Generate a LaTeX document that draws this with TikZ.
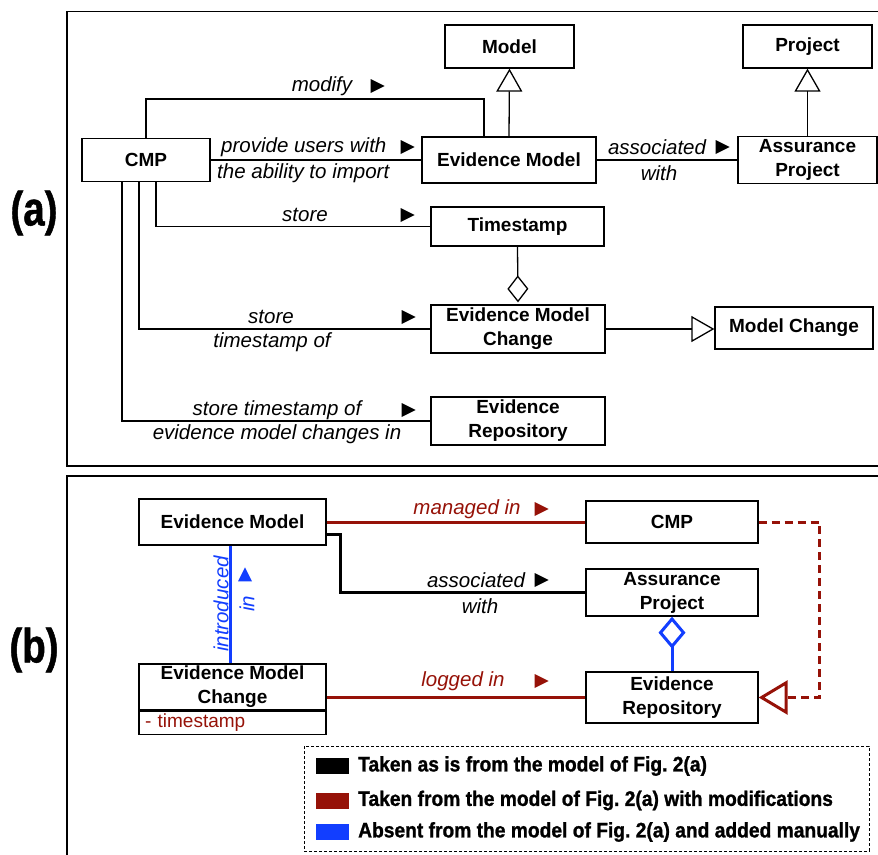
\documentclass[tikz,border=0pt]{standalone}
\usepackage{graphicx}
\usepackage{fontspec}
\setmainfont{Liberation Sans}
\newfontfamily\heavyfont[BoldFeatures={FakeBold=1.2}]{Liberation Sans}
\usetikzlibrary{positioning,arrows.meta,shapes.geometric,calc}
\definecolor{darkred}{RGB}{150,18,8}
\definecolor{brightblue}{RGB}{18,62,255}
\newcommand{\boxfont}{\fontsize{19}{24}\selectfont\bfseries}
\newcommand{\lblfont}{\fontsize{20.5}{24}\selectfont\itshape}
\newcommand{\keyfont}{\heavyfont\fontsize{21}{22}\selectfont\bfseries}
\newcommand{\panelfont}{\heavyfont\fontsize{48}{48}\selectfont\bfseries}
\newcommand{\keytext}[1]{\scalebox{0.915}[1]{#1}}

\begin{document}
\frenchspacing
\begin{tikzpicture}[x=1pt, y=-1pt,
  box/.style={draw, line width=1.3pt, fill=white, font=\boxfont, align=center, inner sep=0pt},
  lbl/.style={font=\lblfont, inner sep=0pt},
  dir/.style={isosceles triangle, isosceles triangle stretches, fill, draw=none, inner sep=0pt,
              minimum width=14pt, minimum height=14pt},
  link/.style={line width=1.3pt},
  gen/.style={link, -{Triangle[open, length=23pt, width=26pt]}},
  agg/.style={link, -{Diamond[open, length=27pt, width=21pt]}},
  rel/.style={line width=3pt},
  keybox/.style={minimum width=33pt, minimum height=16pt, inner sep=0pt}
]
  \useasboundingbox (0,0) rectangle (878,854);

  % panel frames
  \draw[line width=1.2pt] (67,11.5) rectangle (880,466);
  \draw[line width=1.2pt] (67,476) rectangle (880,870);
  \node[font=\panelfont] (pa) at (34,213) {\scalebox{0.8}[1]{(a)}};
  \node[font=\panelfont] (pb) at (34,650) {\scalebox{0.8}[1]{(b)}};

  % (a) classes
  \node[box, minimum width=129pt, minimum height=43pt] (model) at (509.5,46.5) {Model};
  \node[box, minimum width=129pt, minimum height=43pt] (project) at (807.5,46.5) {Project};
  \node[box, minimum width=128pt, minimum height=43pt] (cmp) at (146,160) {CMP};
  \node[box, minimum width=174pt, minimum height=46pt] (em) at (509,160) {Evidence Model};
  \node[box, minimum width=139pt, minimum height=47pt] (ap) at (807.5,160) {Assurance\\Project};
  \node[box, minimum width=173pt, minimum height=39pt] (ts) at (517.5,226.5) {Timestamp};
  \node[box, minimum width=174pt, minimum height=48pt] (emc) at (518,329) {Evidence Model\\Change};
  \node[box, minimum width=158pt, minimum height=42pt] (mc) at (794,328) {Model Change};
  \node[box, minimum width=174pt, minimum height=48pt] (er) at (518,421) {Evidence\\Repository};

  % (a) relations
  \coordinate (mtop) at (484,99);
  \draw[link] (cmp.north) |- (mtop) -- (mtop |- em.north);
  \draw[link] (cmp.east) -- (em.west);
  \draw[link] (em.east) -- (ap.west);
  \draw[link] ([xshift=10pt]cmp.south) |- (ts.west);
  \draw[link] ([xshift=-7pt]cmp.south) |- (emc.west);
  \draw[link] ([xshift=-24pt]cmp.south) |- (er.west);
  \draw[gen] (em.north) -- (model.south);
  \draw[gen] (ap.north) -- (project.south);
  \draw[gen] (emc.east) -- (emc.east -| mc.west);
  \draw[agg] (ts.south) -- ([yshift=2pt]emc.north);

  % (a) labels
  \node[lbl] (lmod) at (322,86) {modify};
  \node[dir] (dmod) at (375,86) {};
  \node[lbl, anchor=west] (lprov) at (221,147) {provide users with};
  \node[dir] (dprov) at (405,147) {};
  \node[lbl, anchor=west] (labil) at (217,173) {the ability to import};
  \node[lbl] (lst) at (305,215) {store};
  \node[dir] (dst) at (405,215) {};
  \node[lbl] (lst2) at (271,317) {store};
  \node[dir] (dst2) at (406,317) {};
  \node[lbl] (ltso) at (272,342) {timestamp of};
  \node[lbl] (lsto) at (277,410) {store timestamp of};
  \node[dir] (dsto) at (406,410) {};
  \node[lbl] (lchg) at (277,434) {evidence model changes in};
  \node[lbl] (lass) at (657,147) {associated};
  \node[dir] (dass) at (720,147) {};
  \node[lbl] (lwith) at (659,173) {with};

  % (b) classes
  \node[box, minimum width=187pt, minimum height=46pt] (em2) at (232.5,522) {Evidence Model};
  \node[box, minimum width=187pt, minimum height=46pt] (emc2) at (232.5,687) {Evidence Model\\Change};
  \node[box, minimum width=187pt, minimum height=23pt, below=0pt of emc2, font=\fontsize{19}{22}\selectfont,
        text=darkred, text width=175pt, align=left] (emcattr) {- timestamp};
  \node[box, minimum width=172pt, minimum height=42pt] (cmp2) at (672,522) {CMP};
  \node[box, minimum width=172pt, minimum height=47pt] (ap2) at (672,592.5) {Assurance\\Project};
  \node[box, minimum width=172pt, minimum height=51pt] (er2) at (672,697.5) {Evidence\\Repository};

  % (b) relations
  \draw[rel, darkred] (em2.east) -- (cmp2.west);
  \draw[rel, black] ([yshift=-12pt]em2.east) -| ([xshift=-245pt]ap2.west) -- (ap2.west);
  \draw[rel, brightblue] ([xshift=-2pt]em2.south) -- ([xshift=-2pt]emc2.north);
  \draw[rel, brightblue, -{Diamond[open, length=32pt, width=27pt]}] (er2.north) -- (ap2.south);
  \draw[rel, darkred] (er2.west -| emc2.east) -- (er2.west);
  \draw[rel, darkred, dashed, dash pattern=on 8pt off 5pt,
        -{Triangle[open, length=29pt, width=34pt]}] (cmp2.east) -- ++(61,0) |- (er2.east);

  % (b) labels
  \node[lbl, darkred] (lman) at (467,509) {managed in};
  \node[dir, darkred] (dman) at (539,509) {};
  \node[lbl] (lass2) at (476,580) {associated};
  \node[dir] (dass2) at (539,580) {};
  \node[lbl] (lwith2) at (480,606) {with};
  \node[lbl, darkred] (llog) at (463,681) {logged in};
  \node[dir, darkred] (dlog) at (539,681) {};
  \node[lbl, brightblue, rotate=90] (lintro) at (221,604) {introduced};
  \node[lbl, brightblue, rotate=90] (lin) at (247,604) {in};
  \node[dir, brightblue, shape border rotate=90] (dintro) at (245,577) {};

  % legend
  \draw[line width=1pt, dashed, dash pattern=on 3pt off 2pt] (304,746) rectangle (869,851);
  \node[keybox, fill=black] (keyA) at (332.5,766) {};
  \node[keybox, fill=darkred] (keyB) at (332.5,800.5) {};
  \node[keybox, fill=brightblue] (keyC) at (332.5,832) {};
  \node[anchor=west, font=\keyfont, inner sep=0pt] (txtA) at (358,766) {\keytext{Taken as is from the model of Fig. 2(a)}};
  \node[anchor=west, font=\keyfont, inner sep=0pt] (txtB) at (358,800.5) {\keytext{Taken from the model of Fig. 2(a) with modifications}};
  \node[anchor=west, font=\keyfont, inner sep=0pt] (txtC) at (358,832) {\keytext{Absent from the model of Fig. 2(a) and added manually}};
\end{tikzpicture}
\end{document}
